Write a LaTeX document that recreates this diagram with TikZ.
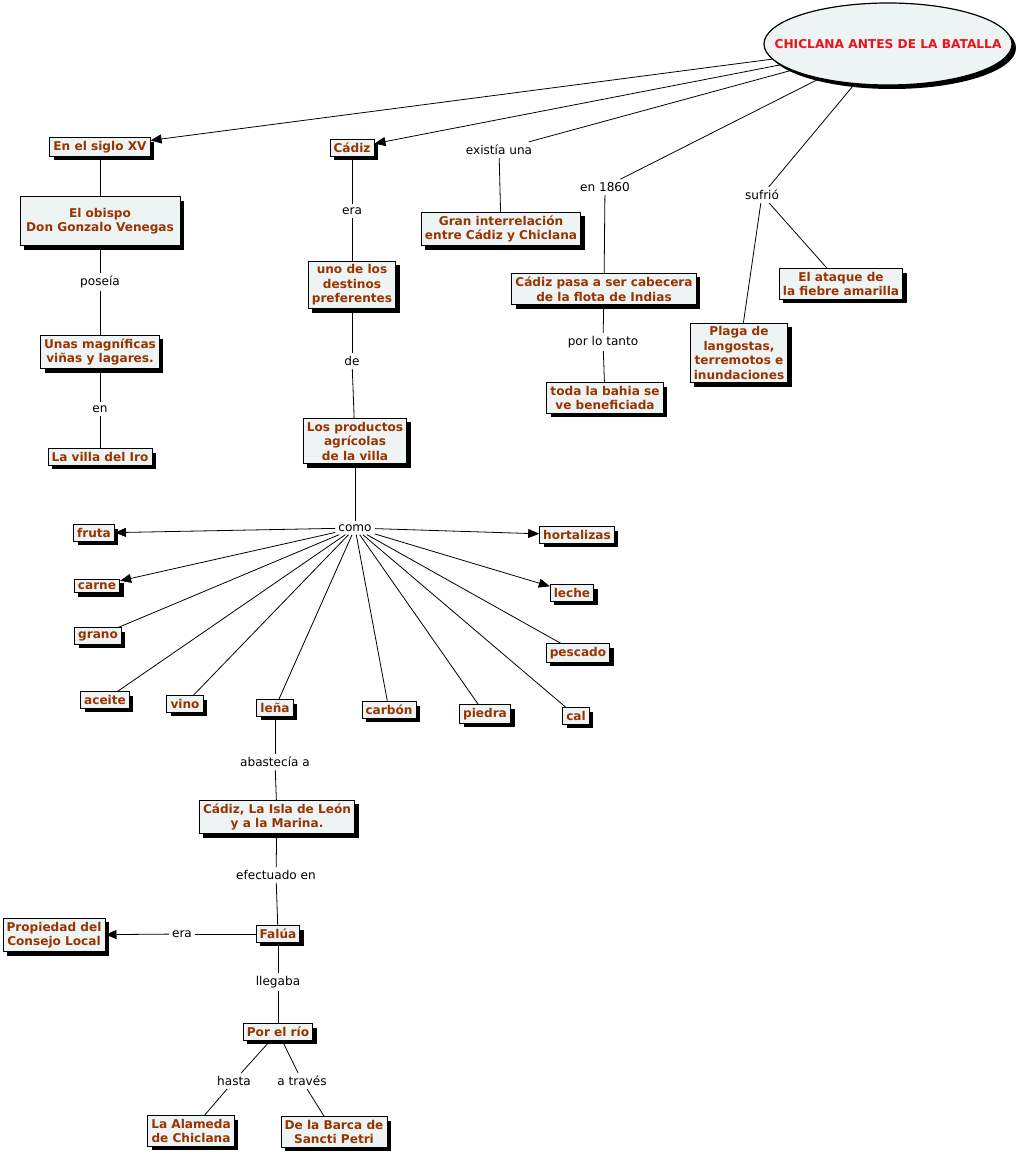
\documentclass[tikz,border=0pt]{standalone}
\usepackage{fontspec}
\setmainfont{DejaVu Sans}
\usetikzlibrary{shapes.geometric,shadows,arrows.meta}
\definecolor{boxfill}{HTML}{EEF4F4}
\definecolor{boxtext}{HTML}{993300}
\definecolor{titlered}{HTML}{E8141B}
\tikzset{
  concept/.style={draw=black, line width=0.9pt, fill=boxfill, text=boxtext,
    font=\bfseries\fontsize{12.1}{14.5}\selectfont, align=center,
    inner xsep=3.6pt, inner ysep=3.4pt,
    drop shadow={shadow xshift=4pt,shadow yshift=-4pt,fill=black,opacity=1}},
  titleell/.style={ellipse, draw=black, line width=1.2pt, fill=boxfill,
    minimum width=248pt, minimum height=82pt, inner sep=0pt,
    drop shadow={shadow xshift=4pt,shadow yshift=-4pt,fill=black,opacity=1}},
  titletext/.style={text=titlered, font=\bfseries\fontsize{12.2}{14.5}\selectfont, inner sep=0pt},
  lbl/.style={font=\fontsize{12.1}{14.5}\selectfont, inner sep=3pt, text=black},
  link/.style={line width=0.8pt, draw=black},
  arr/.style={link, -{Triangle[length=11pt,width=9pt]}}
}
\begin{document}
\begin{tikzpicture}[x=1pt,y=-1pt]
\fill[white] (0,0) rectangle (1019,1153);
\useasboundingbox (0,0) rectangle (1019,1153);

% root
\node[titleell] (root) at (888,44) {};
\node[titletext] at (888,44) {CHICLANA ANTES DE LA BATALLA};

% left branch
\node[concept] (siglo) at (100,147) {En el siglo XV};
\node[concept, minimum width=160pt, minimum height=49pt] (obispo) at (100,221) {El obispo\\Don Gonzalo Venegas};
\node[lbl] (poseia) at (100,282) {poseía};
\node[concept] (magnificas) at (100,352) {Unas magníficas\\viñas y lagares.};
\node[lbl] (en) at (100,409) {en};
\node[concept] (iro) at (100,457) {La villa del Iro};

% Cadiz branch
\node[concept] (cadiz) at (352,148) {Cádiz};
\node[lbl] (era) at (352,211) {era};
\node[concept] (destinos) at (352,285) {uno de los\\destinos\\preferentes};
\node[lbl] (de) at (352,361) {de};
\node[concept] (productos) at (355,441) {Los productos\\agrícolas\\de la villa};
\node[lbl] (como) at (355,528) {como};

% existia
\node[lbl] (existia) at (499,150) {existía una};
\node[concept] (gran) at (501,229) {Gran interrelación\\entre Cádiz y Chiclana};

% 1860
\node[lbl] (en1860) at (605,187) {en 1860};
\node[concept] (cabecera) at (604,289) {Cádiz pasa a ser cabecera\\de la flota de Indias};
\node[lbl] (portanto) at (603,342) {por lo tanto};
\node[concept] (bahia) at (605,398) {toda la bahia se\\ve beneficiada};

% sufrio
\node[lbl] (sufrio) at (762,195) {sufrió};
\node[concept] (ataque) at (841,284) {El ataque de\\la fiebre amarilla};
\node[concept] (plaga) at (739,353) {Plaga de\\langostas,\\terremotos e\\inundaciones};

% products
\node[concept] (fruta) at (94,533) {fruta};
\node[concept] (carne) at (97,586) {carne};
\node[concept] (grano) at (98,636) {grano};
\node[concept] (aceite) at (105,700) {aceite};
\node[concept] (vino) at (185,704) {vino};
\node[concept] (lena) at (275,708) {leña};
\node[concept] (carbon) at (389,710) {carbón};
\node[concept] (piedra) at (485,714) {piedra};
\node[concept] (cal) at (576,716) {cal};
\node[concept] (pescado) at (578,653) {pescado};
\node[concept] (leche) at (572,593) {leche};
\node[concept] (hortalizas) at (577,535) {hortalizas};

% lower chain
\node[lbl] (abastecia) at (275,762) {abastecía a};
\node[concept] (isla) at (277,817) {Cádiz, La Isla de León\\y a la Marina.};
\node[lbl] (efectuado) at (276,875) {efectuado en};
\node[concept] (falua) at (278,934) {Falúa};
\node[lbl] (era2) at (182,934) {era};
\node[concept] (propiedad) at (54,935) {Propiedad del\\Consejo Local};
\node[lbl] (llegaba) at (278,982) {llegaba};
\node[concept] (rio) at (278,1032) {Por el río};
\node[lbl] (hasta) at (234,1081) {hasta};
\node[lbl] (traves) at (302,1081) {a través};
\node[concept] (alameda) at (191,1131) {La Alameda\\de Chiclana};
\node[concept] (barca) at (334,1132) {De la Barca de\\Sancti Petri};

% connectors
\draw[arr] (root) -- (siglo);
\draw[arr] (root) -- (cadiz);
\draw[link] (root) -- (existia);
\draw[link] (existia) -- (gran);
\draw[link] (root) -- (en1860);
\draw[link] (en1860) -- (cabecera);
\draw[link] (cabecera) -- (portanto);
\draw[link] (portanto) -- (bahia);
\draw[link] (root) -- (sufrio);
\draw[link] (sufrio) -- (plaga);
\draw[link] (sufrio) -- (ataque);

\draw[link] (siglo) -- (obispo);
\draw[link] (obispo) -- (poseia);
\draw[link] (poseia) -- (magnificas);
\draw[link] (magnificas) -- (en);
\draw[link] (en) -- (iro);

\draw[link] (cadiz) -- (era);
\draw[link] (era) -- (destinos);
\draw[link] (destinos) -- (de);
\draw[link] (de) -- (productos);
\draw[link] (productos) -- (como);

\draw[arr] (como) -- (fruta);
\draw[arr] (como) -- (carne);
\draw[link] (como) -- (grano);
\draw[link] (como) -- (aceite);
\draw[link] (como) -- (vino);
\draw[link] (como) -- (lena);
\draw[link] (como) -- (carbon);
\draw[link] (como) -- (piedra);
\draw[link] (como) -- (cal);
\draw[link] (como) -- (pescado);
\draw[arr] (como) -- (leche);
\draw[arr] (como) -- (hortalizas);

\draw[link] (lena) -- (abastecia);
\draw[link] (abastecia) -- (isla);
\draw[link] (isla) -- (efectuado);
\draw[link] (efectuado) -- (falua);
\draw[link] (falua) -- (era2);
\draw[arr] (era2) -- (propiedad);
\draw[link] (falua) -- (llegaba);
\draw[link] (llegaba) -- (rio);
\draw[link] (rio) -- (hasta);
\draw[link] (hasta) -- (alameda);
\draw[link] (rio) -- (traves);
\draw[link] (traves) -- (barca);
\end{tikzpicture}
\end{document}
